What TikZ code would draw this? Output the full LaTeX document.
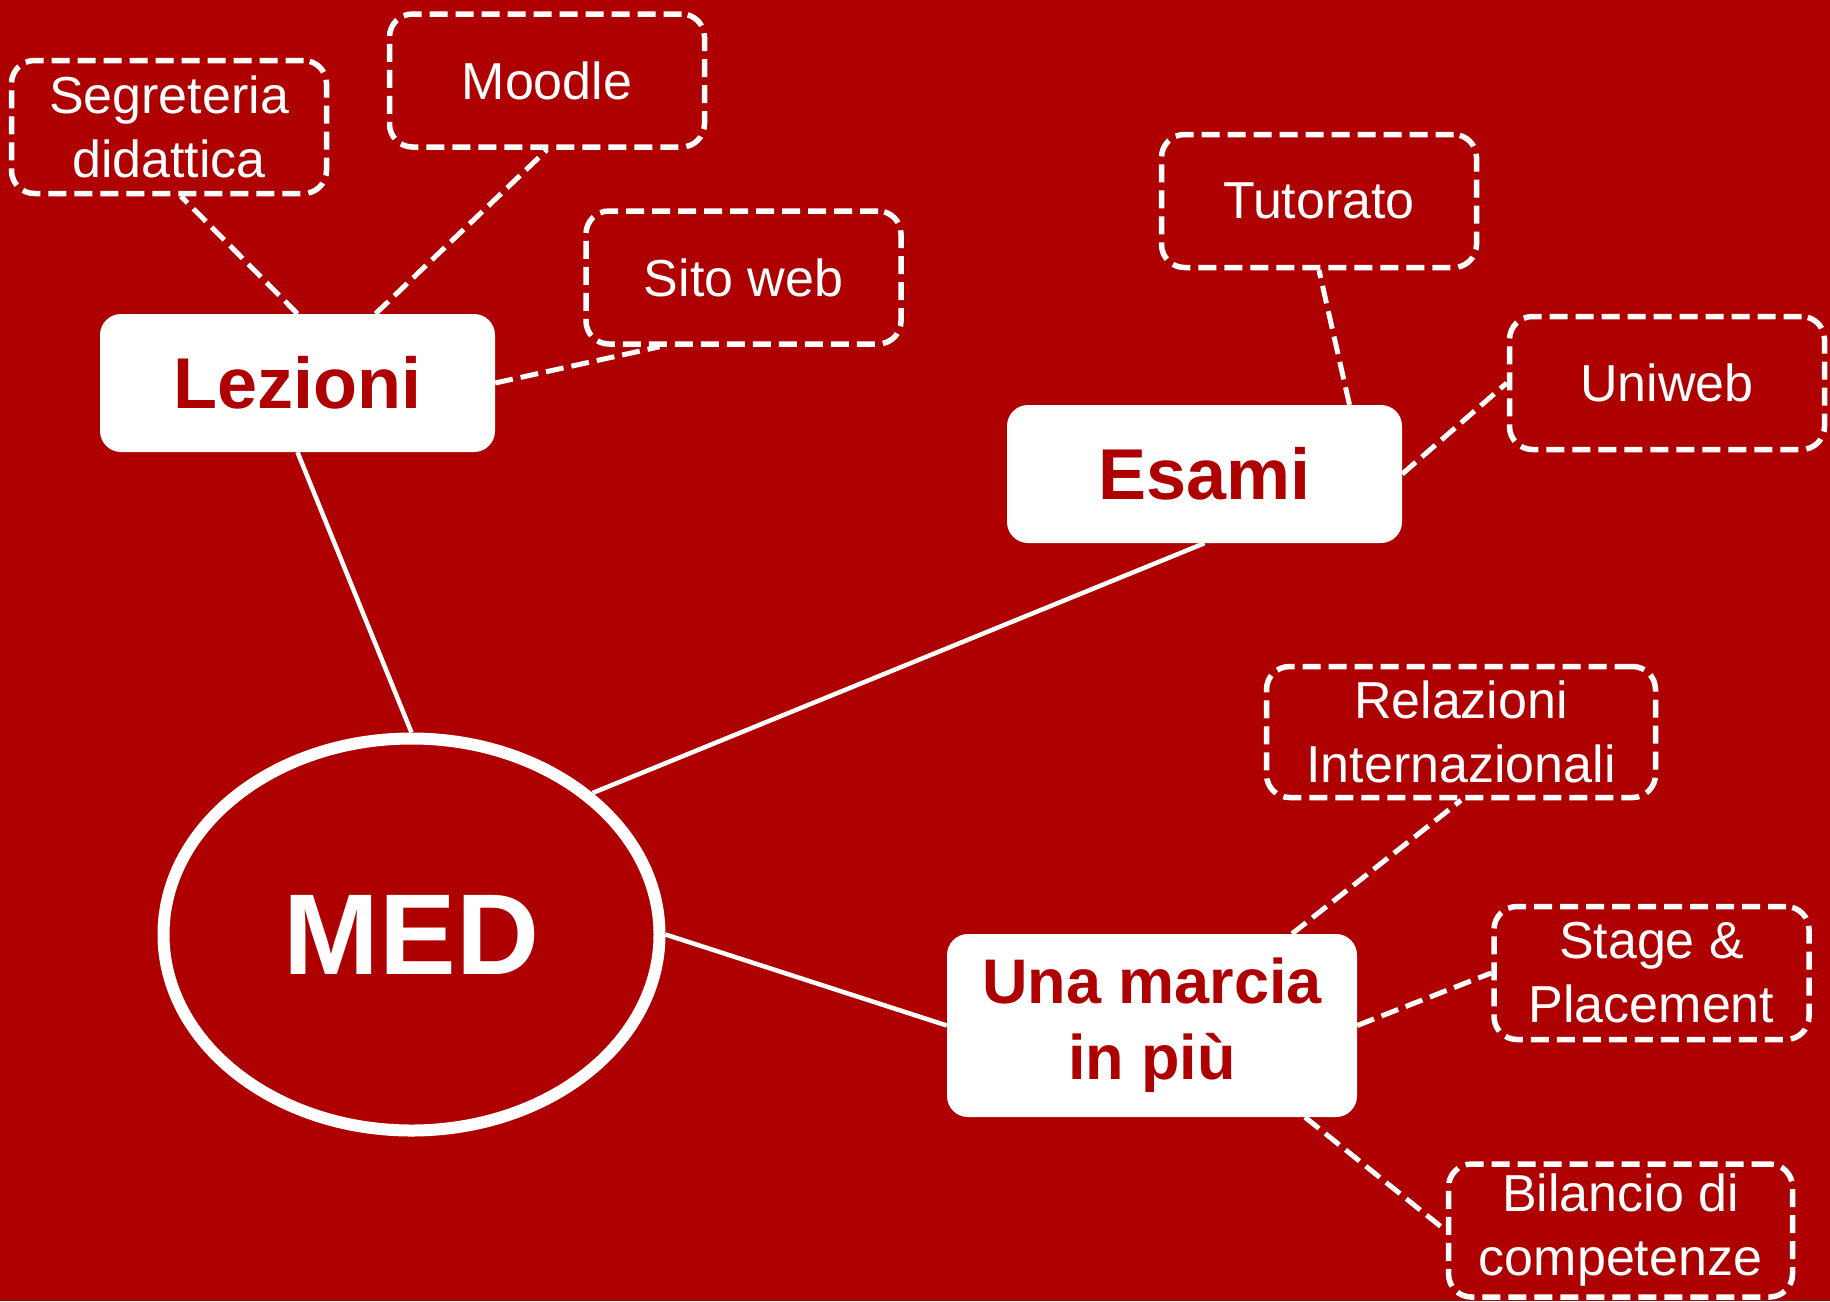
\documentclass[tikz,border=0pt]{standalone}
\usepackage{fontspec}
\setmainfont{Liberation Sans}
\usetikzlibrary{calc,shapes.geometric}
\definecolor{bgred}{RGB}{174,0,0}
\begin{document}
\begin{tikzpicture}[x=1pt,y=-1pt,
 dbox/.style={draw=white, line width=5.5pt, dash pattern=on 18pt off 8pt, rounded corners=23pt, text=white, align=center, font=\fontsize{52}{64}\selectfont, minimum width=315pt, minimum height=133pt, inner sep=0pt},
 wbox/.style={fill=white, rounded corners=21pt, text=bgred, align=center, font=\bfseries\fontsize{72}{86}\selectfont, minimum width=395pt, minimum height=138pt, inner sep=0pt},
 link/.style={draw=white, line width=4.5pt},
 dlink/.style={draw=white, line width=5pt, dash pattern=on 18pt off 8pt}]
\fill[bgred] (0,0) rectangle (1830,1301);
\useasboundingbox (0,0) rectangle (1830,1301);
\node[dbox] (seg) at (169,127) {Segreteria\\didattica};
\node[dbox] (moo) at (547,80.5) {Moodle};
\node[dbox] (sito) at (743.5,277.5) {Sito web};
\node[wbox] (lez) at (297.5,383) {Lezioni};
\node[dbox] (tut) at (1319,201) {Tutorato};
\node[dbox] (uni) at (1667,383) {Uniweb};
\node[wbox] (esa) at (1204.5,474) {Esami};
\node[dbox, minimum width=389pt, minimum height=131pt] (rel) at (1461,732) {Relazioni\\Internazionali};
\node[dbox] (sta) at (1651.5,973) {Stage \&\\Placement};
\node[wbox, minimum width=410pt, minimum height=183pt, font=\bfseries\fontsize{63}{76}\selectfont] (una) at (1152,1025.5) {Una marcia\\in più};
\node[dbox, minimum width=344pt] (bil) at (1620.5,1230.5) {Bilancio di\\competenze};
\node[ellipse, draw=white, line width=12pt, minimum width=496pt, minimum height=392pt, inner sep=0pt, text=white, font=\bfseries\fontsize{115}{130}\selectfont] (med) at (411.5,934.5) {MED};
\draw[dlink] (lez.north) -- ($(seg.south)+(12,0)$);
\draw[dlink] ($(lez.north)+(78,0)$) -- (moo.south);
\draw[dlink] (lez.east) -- ($(sito.south)+(-84,0)$);
\draw[link] (lez.south) -- (med.north);
\draw[link] (esa.south) -- (med.38);
\draw[dlink] ($(esa.north)+(145,0)$) -- (tut.south);
\draw[dlink] (esa.east) -- (uni.west);
\draw[link] (una.west) -- (med.east);
\draw[dlink] ($(una.north)+(140,0)$) -- (rel.south);
\draw[dlink] (una.east) -- (sta.west);
\draw[dlink] ($(una.south)+(153,0)$) -- (bil.west);
\end{tikzpicture}
\end{document}
